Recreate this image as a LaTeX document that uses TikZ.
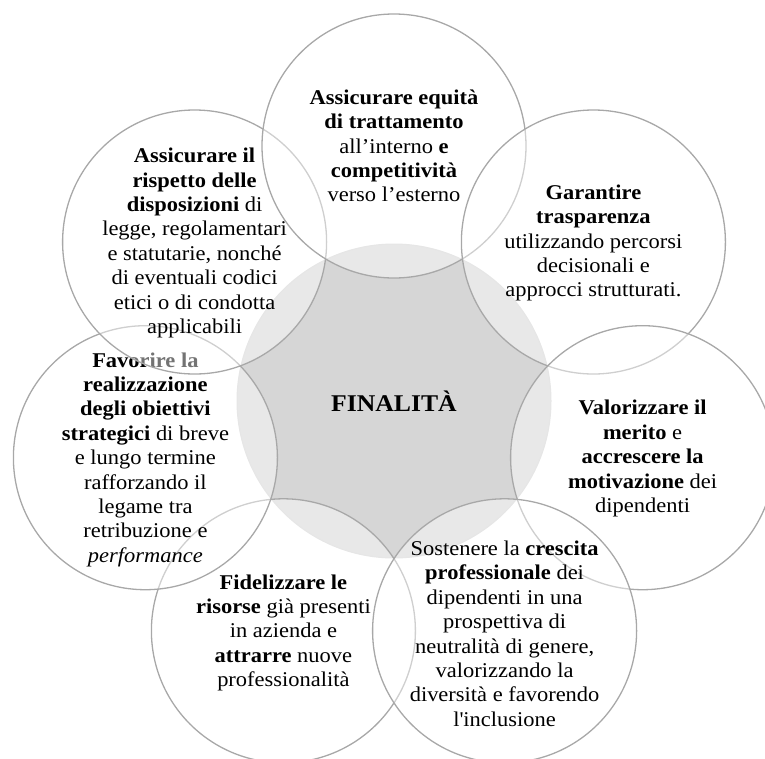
\documentclass[tikz,border=0pt]{standalone}
\usepackage{fontspec}
\setmainfont{Liberation Serif}[FakeStretch=1.07]
\definecolor{starfill}{HTML}{D6D6D6}
\definecolor{ringline}{HTML}{D2D2D2}
\definecolor{outerline}{HTML}{A8A8A8}
\begin{document}
\begin{tikzpicture}[x=1pt,y=-1pt,
  hub/.style={circle,minimum size=314pt,inner sep=0pt,fill=starfill,draw=ringline,line width=1pt,
    font=\fontsize{24}{28}\selectfont\bfseries},
  petal/.style={circle,minimum size=264pt,inner sep=0pt,fill=white,fill opacity=0.45,draw=outerline,line width=1.3pt},
  petaltext/.style={align=center,inner sep=0pt,text=black,font=\fontsize{21}{24.4}\selectfont}]
\useasboundingbox (0,0) rectangle (765,758);
\node[hub] (fin) at (394,401) {FINALITÀ};
% bottom-left
\node[petal] (cbl) at (283.4,630.8) {};
\node[petaltext] (tbl) at ([yshift=-2pt]cbl.center) {\textbf{Fidelizzare le}\\ \textbf{risorse} già presenti\\ in azienda e\\ \textbf{attrarre} nuove\\ professionalità};
% left
\node[petal] (cl) at (145.4,457.7) {};
\node[petaltext] (tl) at ([yshift=-2pt]cl.center) {\textbf{Favorire la}\\ \textbf{realizzazione}\\ \textbf{degli obiettivi}\\ \textbf{strategici} di breve\\ e lungo termine\\ rafforzando il\\ legame tra\\ retribuzione e\\ \textit{performance}};
% top-left
\node[petal] (ctl) at (194.6,242) {};
\node[petaltext] (ttl) at ([yshift=-1pt]ctl.center) {\textbf{Assicurare il}\\ \textbf{rispetto delle}\\ \textbf{disposizioni} di\\ legge, regolamentari\\ e statutarie, nonché\\ di eventuali codici\\ etici o di condotta\\ applicabili};
% top
\node[petal] (ct) at (394,146) {};
\node[petaltext] (tt) at ([yshift=0pt]ct.center) {\textbf{Assicurare equità}\\ \textbf{di trattamento}\\ all’interno \textbf{e}\\ \textbf{competitività}\\ verso l’esterno};
% top-right
\node[petal] (ctr) at (593.4,242) {};
\node[petaltext] (ttr) at ([yshift=-1pt]ctr.center) {\textbf{Garantire}\\ \textbf{trasparenza}\\ utilizzando percorsi\\ decisionali e\\ approcci strutturati.};
% right
\node[petal] (cr) at (642.6,457.7) {};
\node[petaltext] (tr) at ([yshift=-1pt]cr.center) {\textbf{Valorizzare il}\\ \textbf{merito} e\\ \textbf{accrescere la}\\ \textbf{motivazione} dei\\ dipendenti};
% bottom-right
\node[petal] (cbr) at (504.6,630.8) {};
\node[petaltext] (tbr) at ([yshift=-3pt]cbr.center) {Sostenere la \textbf{crescita}\\ \textbf{professionale} dei\\ dipendenti in una\\ prospettiva di\\ neutralità di genere,\\ valorizzando la\\ diversità e favorendo\\ l\textquotesingle inclusione};
\end{tikzpicture}
\end{document}
